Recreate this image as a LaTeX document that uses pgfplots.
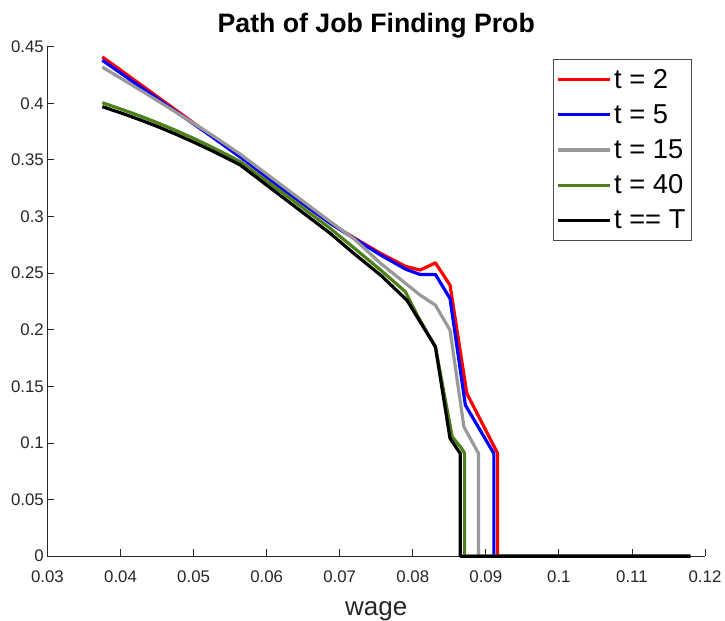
\documentclass[border=0pt]{standalone}
\usepackage{fontspec}
\setmainfont{Liberation Sans}
\usepackage{pgfplots}
\pgfplotsset{compat=1.18}

\definecolor{tgray}{rgb}{0.6,0.6,0.6}
\definecolor{tgreen}{rgb}{0.30,0.50,0.10}
\definecolor{axgray}{rgb}{0.15,0.15,0.15}

\begin{document}
\begin{tikzpicture}
\begin{axis}[
    scale only axis,
    width=493pt,
    height=382pt,
    xmin=0.03, xmax=0.12,
    ymin=0, ymax=0.45,
    axis lines*=left,
    axis line style={axgray, line width=0.6pt},
    tick style={axgray, line width=0.6pt},
    tick align=inside,
    major tick length=5pt,
    xtick={0.03,0.04,0.05,0.06,0.07,0.08,0.09,0.1,0.11,0.12},
    xticklabels={0.03,0.04,0.05,0.06,0.07,0.08,0.09,0.1,0.11,0.12},
    ytick={0,0.05,0.1,0.15,0.2,0.25,0.3,0.35,0.4,0.45},
    yticklabels={0,0.05,0.1,0.15,0.2,0.25,0.3,0.35,0.4,0.45},
    ticklabel style={font=\fontsize{12.6}{14}\selectfont, text=axgray},
    xticklabel style={yshift=-7.5pt},
    yticklabel style={xshift=0.8pt},
    title={Path of Job Finding Prob},
    title style={font=\bfseries\fontsize{20}{24}\selectfont, at={(0.5,1)}, anchor=base, yshift=5pt},
    xlabel={wage},
    xlabel style={font=\fontsize{19.5}{22}\selectfont, at={(0.5,0)}, anchor=base, yshift=-44.3pt, text=axgray},
    legend cell align=left,
    legend image code/.code={\draw[#1] (0pt,0pt) -- (39pt,0pt);},
    legend style={at={(0.98,0.975)}, anchor=north east, draw=black!70, line width=0.5pt,
        font=\fontsize{20.5}{24}\selectfont, inner xsep=2.5pt, inner ysep=5pt, row sep=6.7pt,
        /tikz/every even column/.append style={column sep=0pt}},
    every axis plot/.append style={line width=2.4pt, line join=round},
    clip=false,
]
% t = 2
\addplot[red] coordinates {
 (0.0375,0.441) (0.0425,0.4177) (0.0475,0.3943) (0.0525,0.371) (0.0564,0.3527)
 (0.0625,0.3227) (0.0687,0.294) (0.072,0.281) (0.0756,0.2674) (0.079,0.256)
 (0.081,0.2527) (0.0831,0.259) (0.0851,0.2394) (0.0874,0.1437) (0.0916,0.091)
 (0.0916,0) (0.118,0)
};
% t = 5
\addplot[blue] coordinates {
 (0.0375,0.438) (0.0425,0.4155) (0.0475,0.393) (0.0525,0.3705) (0.0564,0.3525)
 (0.0625,0.323) (0.0687,0.294) (0.072,0.2805) (0.0756,0.266) (0.079,0.2535)
 (0.081,0.2488) (0.0831,0.2488) (0.0851,0.2276) (0.0872,0.1334) (0.0911,0.0907)
 (0.0911,0) (0.118,0)
};
% t = 15
\addplot[tgray] coordinates {
 (0.0375,0.432) (0.0425,0.4125) (0.0475,0.3925) (0.0525,0.372) (0.0564,0.355)
 (0.0625,0.3255) (0.0687,0.2955) (0.072,0.280) (0.0756,0.2586) (0.081,0.2306)
 (0.0831,0.2217) (0.0851,0.1996) (0.087,0.1142) (0.089,0.0907)
 (0.089,0) (0.118,0)
};
% t = 40
\addplot[tgreen] coordinates {
 (0.0375,0.4005) (0.040,0.395) (0.0425,0.3892) (0.045,0.3829) (0.0475,0.3762)
 (0.050,0.369) (0.0525,0.3613) (0.055,0.3532) (0.0564,0.3483)
 (0.0625,0.3195) (0.0687,0.2895) (0.072,0.272) (0.0756,0.2527) (0.079,0.2335)
 (0.0806,0.2129) (0.0831,0.1849) (0.0854,0.1054) (0.0867,0.0951) (0.0871,0.0907)
 (0.0871,0) (0.118,0)
};
% t == T
\addplot[black] coordinates {
 (0.0375,0.397) (0.040,0.3916) (0.0425,0.3858) (0.045,0.3796) (0.0475,0.3729)
 (0.050,0.3657) (0.0525,0.3581) (0.055,0.3501) (0.0564,0.3454)
 (0.0625,0.3155) (0.0687,0.2851) (0.072,0.267) (0.0756,0.2482) (0.0792,0.2261)
 (0.0831,0.1849) (0.0851,0.104) (0.0865,0.0907)
 (0.0865,0) (0.118,0)
};
\legend{t = 2, t = 5, t = 15, t = 40, t == T}
\coordinate (bl) at (rel axis cs:0,0);
\coordinate (tr) at (rel axis cs:1,1);
\end{axis}
\pgfresetboundingbox
\path[use as bounding box] ([xshift=-35.6pt,yshift=-48pt]bl) rectangle ([xshift=15pt,yshift=35pt]tr);
\end{tikzpicture}
\end{document}
